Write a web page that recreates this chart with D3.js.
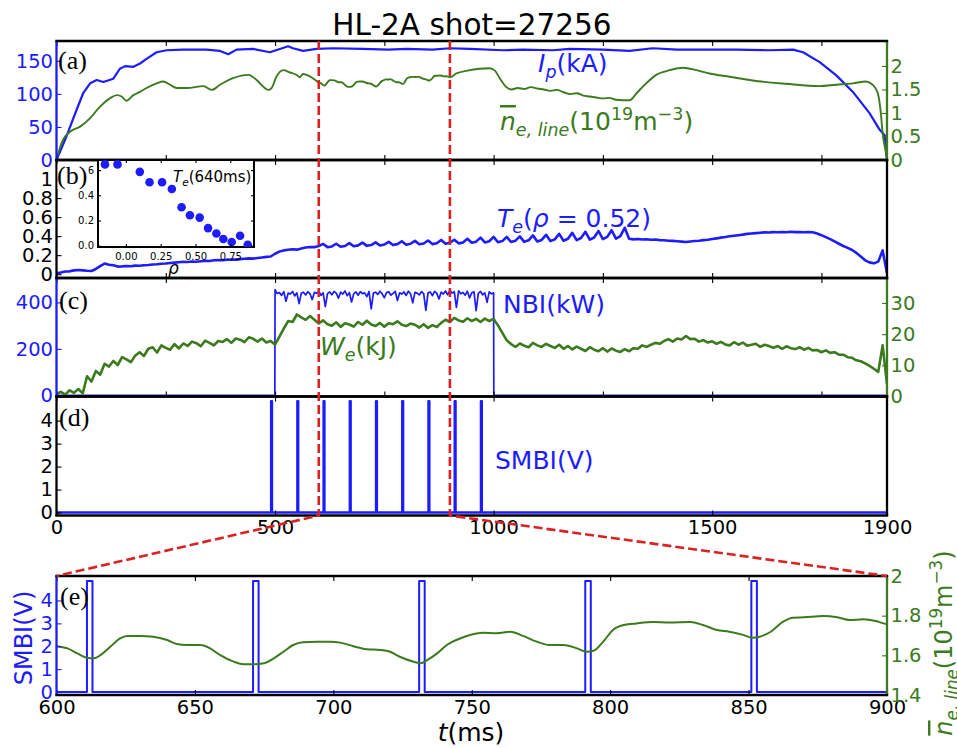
<!DOCTYPE html>
<html><head><meta charset="utf-8">
<script src="https://cdn.jsdelivr.net/npm/d3@7"></script>
<style>body{margin:0;background:#fff}</style>
</head><body>
<svg id="c" width="957" height="748"></svg>
<script>
// ---------- shot data (HL-2A #27256) ----------
// plasma current Ip [ms, kA]
const ipData = [[0,0],[23,36],[46,76],[61,101],[77,116],[92,121],[107,118],[130,123],[145,138],[157,142],[176,141],[191,146],[206,153],[229,163],[252,166],[290,167],[343,167],[374,165],[393,160],[412,167],[450,168],[488,163],[511,168],[530,172],[541,169],[564,165],[595,168],[633,169],[700,168],[760,167],[800,168],[860,167],[900,169],[945,168],[1022,166],[1067,167],[1136,166],[1174,168],[1250,167],[1311,165],[1364,169],[1420,167],[1479,167],[1555,167],[1631,166],[1685,167],[1708,163],[1746,148],[1784,128],[1822,103],[1860,71],[1883,46],[1895,37],[1898,11],[1900,0]];

// line-averaged density [ms, 1e19 m^-3]
const neData = [[0,0.02],[15,0.43],[31,0.60],[54,0.71],[77,0.89],[99,1.13],[122,1.31],[138,1.38],[149,1.35],[160,1.26],[176,1.38],[191,1.45],[206,1.53],[229,1.63],[244,1.67],[260,1.60],[275,1.53],[298,1.53],[336,1.57],[355,1.49],[374,1.60],[404,1.74],[439,1.81],[458,1.70],[473,1.56],[484,1.49],[492,1.53],[503,1.77],[519,1.91],[534,1.86],[549,1.81],[557,1.76],[564,1.83],[572,1.81],[583,1.76],[592,1.70],
[600,1.647],[604,1.635],[607.5,1.610],[611,1.588],[613.5,1.585],[616,1.602],[619.5,1.644],[623,1.686],[625.5,1.698],[630,1.698],[635,1.694],[640,1.677],[643.5,1.657],[647,1.652],[652,1.652],[655.5,1.635],[659,1.602],[664,1.568],[667.5,1.555],[671,1.555],[675,1.560],[678.5,1.585],[682,1.618],[685.5,1.652],[689,1.666],[694,1.669],[699,1.669],[702.5,1.664],[707,1.647],[712,1.631],[717,1.627],[720.5,1.618],[724,1.593],[729,1.568],[731.5,1.560],[734,1.577],[737.5,1.610],[741,1.652],[746,1.686],[750,1.705],[754,1.714],[759,1.711],[764,1.719],[768.5,1.698],[773.5,1.669],[778,1.652],[783,1.652],[788,1.635],[791.5,1.618],[794,1.623],[797.5,1.669],[801,1.728],[805,1.753],[809.5,1.761],[815.5,1.768],[821.5,1.766],[829,1.768],[833.5,1.753],[838.5,1.728],[843,1.719],[848,1.703],[851.5,1.689],[854,1.694],[858,1.719],[862.5,1.770],[866,1.790],[870,1.792],[877,1.798],[882,1.792],[886.5,1.778],[891.5,1.782],[896,1.773],[900,1.758],
[915,1.84],[940,1.90],[968,1.94],[991,1.95],[1003,1.90],[1014,1.74],[1029,1.55],[1041,1.50],[1055,1.53],[1070,1.51],[1085,1.55],[1100,1.52],[1115,1.50],[1130,1.47],[1145,1.49],[1160,1.44],[1175,1.40],[1190,1.42],[1205,1.37],[1220,1.35],[1235,1.33],[1250,1.31],[1265,1.32],[1280,1.28],[1295,1.27],[1311,1.27],[1327,1.42],[1349,1.63],[1372,1.81],[1403,1.91],[1433,1.96],[1464,1.91],[1494,1.84],[1540,1.77],[1593,1.69],[1669,1.62],[1746,1.57],[1784,1.60],[1822,1.63],[1852,1.67],[1867,1.60],[1879,1.42],[1886,0.99],[1890,0.57],[1898,0.14],[1900,0.03]];

// ECE Te at rho = 0.52 [keV], sampled every 10 ms from t = 0
const sampleStep = 10;
const teValues = [
0.010,0.018,0.028,0.030,0.040,0.044,0.040,0.036,0.034,0.055,
0.085,0.112,0.100,0.094,0.080,0.082,0.086,0.084,0.090,0.088,
0.094,0.096,0.102,0.104,0.110,0.112,0.118,0.122,0.126,0.131,
0.128,0.133,0.131,0.136,0.140,0.138,0.146,0.148,0.146,0.152,
0.155,0.153,0.158,0.162,0.166,0.164,0.170,0.176,0.182,0.186,
0.215,0.238,0.250,0.256,0.262,0.258,0.270,0.280,0.286,0.284,
0.296,0.318,0.284,0.292,0.320,0.288,0.296,0.326,0.294,0.303,
0.332,0.298,0.306,0.334,0.302,0.312,0.340,0.306,0.316,0.346,
0.310,0.320,0.350,0.314,0.322,0.354,0.316,0.326,0.360,0.320,
0.330,0.362,0.324,0.334,0.372,0.330,0.342,0.384,0.334,0.346,
0.392,0.336,0.348,0.392,0.338,0.352,0.398,0.340,0.356,0.408,
0.344,0.360,0.414,0.348,0.366,0.424,0.352,0.372,0.434,0.358,
0.380,0.446,0.364,0.386,0.454,0.368,0.392,0.462,0.374,0.400,
0.488,0.372,0.366,0.370,0.364,0.368,0.362,0.364,0.358,0.356,
0.352,0.350,0.346,0.342,0.338,0.344,0.348,0.352,0.358,0.362,
0.370,0.376,0.384,0.390,0.398,0.404,0.410,0.416,0.424,0.428,
0.432,0.436,0.440,0.438,0.442,0.440,0.444,0.440,0.446,0.442,
0.444,0.440,0.444,0.440,0.428,0.410,0.390,0.368,0.344,0.320,
0.296,0.276,0.254,0.224,0.186,0.146,0.124,0.114,0.132,0.250,
0.010];

// stored energy We [kJ], sampled every 10 ms from t = 0
const weValues = [
0.8,1.5,0.6,2.0,1.2,2.4,1.0,6.5,4.8,8.2,
7.0,10.5,9.6,11.4,10.1,12.6,11.9,11.0,13.1,14.2,
13.0,15.3,15.8,14.1,16.4,15.6,15.0,16.8,15.4,17.0,
16.2,17.6,17.1,16.1,17.9,17.2,16.4,17.8,17.5,18.4,
17.2,18.6,18.2,17.4,19.0,18.5,17.6,18.6,17.3,17.8,
16.6,19.2,21.8,24.2,23.9,26.3,25.4,24.6,25.8,24.6,
23.4,24.4,23.2,22.7,23.8,22.3,23.5,23.1,22.4,23.9,
23.0,24.3,23.1,22.6,23.6,22.4,23.5,23.2,24.1,23.0,
22.6,23.4,23.0,22.1,23.2,22.0,22.9,22.3,23.6,24.6,
23.9,25.2,24.4,24.0,25.1,24.2,24.9,23.9,25.0,24.2,
24.9,22.8,20.4,18.0,16.8,15.9,17.0,16.3,15.8,17.2,
16.4,15.9,16.9,16.2,15.6,16.6,15.3,16.2,15.1,16.0,
15.3,14.6,15.8,15.0,14.5,15.5,14.4,15.4,14.7,14.3,
15.2,14.5,15.5,15.3,16.4,15.9,16.6,17.2,16.9,17.8,
18.4,17.6,18.6,18.3,19.4,18.4,18.5,17.6,18.1,17.3,
17.7,16.9,17.5,16.7,16.4,17.4,16.6,17.3,16.3,16.6,
16.9,15.9,16.6,16.2,15.6,16.2,15.3,16.1,15.5,15.2,
15.8,15.0,15.6,14.8,14.9,14.2,14.8,14.0,14.2,13.4,
13.4,12.6,12.4,11.6,11.3,10.6,9.8,8.9,7.9,16.4,
4.0];

// NBI power [kW]: beam on 500-1000 ms, sampled every 5 ms
const nbiOn = 500, nbiOff = 1000, nbiStep = 5;
const nbiValues = [
455,438,442,430,446,405,440,436,447,428,
441,395,439,444,432,446,437,412,443,439,
448,430,441,382,438,445,433,447,440,418,
444,436,449,429,442,402,437,445,431,446,
438,441,425,447,372,440,444,434,448,437,
420,442,446,431,439,447,408,441,436,445,
430,448,437,398,443,440,432,446,438,366,
441,445,429,447,439,415,444,436,449,433,
452,440,446,378,450,437,443,431,448,419,
441,446,364,439,447,433,441,400,445,437,
441];

// SMBI valve voltage pulses [ms]
const smbiStart = [491, 551, 611, 671, 731, 791, 851, 911, 971];
const smbiDuration = 2;
const smbiLevel = 4.85;

// Te profile at 640 ms (inset)
const rhoInset = [-0.15,-0.06,0.10,0.17,0.26,0.33,0.40,0.46,0.53,0.59,0.65,0.70,0.76,0.82,0.875];
const teInset  = [0.645,0.645,0.586,0.503,0.503,0.45,0.305,0.242,0.223,0.14,0.097,0.053,0.03,0.079,0.008];

// tick values
const mainTicks = [0, 500, 1000, 1500, 1900];
const minorMainTicks = [0, 250, 500, 750, 1000, 1250, 1500, 1750];
const zoomTicks = [600, 650, 700, 750, 800, 850, 900];
const ipTicks = [0, 50, 100, 150];
const neTicks = [0, 0.5, 1, 1.5, 2];
const teTicks = [0, 0.2, 0.4, 0.6, 0.8, 1];
const nbiTicks = [0, 200, 400];
const weTicks = [0, 10, 20, 30];
const smbiTicks = [0, 1, 2, 3, 4];
const neZoomTicks = [1.4, 1.6, 1.8, 2.0];
const insetXTicks = [0, 0.25, 0.5, 0.75];
const insetYTicks = [0, 0.2, 0.4, 0.6];

// ---------- drawing ----------
const BLUE = "#1c1cff", GREEN = "#3b7a1d", RED = "#da2222";
const SANS = "DejaVu Sans", SERIF = "Liberation Serif";
const FS = 19.5;
const svg = d3.select("#c");
const defs = svg.append("defs");

const X0 = 56.5, X1 = 887;
const P = {a:[41,160], b:[160,278], c:[278,396.5], d:[396.5,515.5], e:[576,695]};

const xMain = d3.scaleLinear().domain([0,1900]).range([X0,X1]);
const xZoom = d3.scaleLinear().domain([600,900]).range([X0,X1]);

const yIp = d3.scaleLinear().domain([0,180]).range([P.a[1],P.a[0]]);
const yNe = d3.scaleLinear().domain([0,2.53]).range([P.a[1],P.a[0]]);
const yTe = d3.scaleLinear().domain([-0.04,1.2]).range([P.b[1],P.b[0]]);
const yNbi = d3.scaleLinear().domain([-5,505]).range([P.c[1],P.c[0]]);
const yWe = d3.scaleLinear().domain([0,38]).range([P.c[1],P.c[0]]);
const ySmbi = d3.scaleLinear().domain([-0.13,5.05]).range([P.d[1],P.d[0]]);
const ySmbiZ = d3.scaleLinear().domain([-0.13,5.07]).range([P.e[1],P.e[0]]);
const yNeZ = d3.scaleLinear().domain([1.4,2.0]).range([P.e[1],P.e[0]]);

Object.entries(P).forEach(([k,[t,b]]) => {
  defs.append("clipPath").attr("id","clip-"+k).append("rect")
    .attr("x",X0).attr("y",t).attr("width",X1-X0).attr("height",b-t);
});

// assembled time series
const teSeries = teValues.map((v,i) => [i*sampleStep, v]);
const weSeries = weValues.map((v,i) => [i*sampleStep, v]);
const nbiSeries = [[0,0],[nbiOn-0.5,0]]
  .concat(nbiValues.map((v,i) => [nbiOn + i*nbiStep, v]))
  .concat([[nbiOff+0.5,0],[1900,0]]);
const smbiSeries = [[0,0]];
smbiStart.forEach(s => {
  smbiSeries.push([s,0],[s,smbiLevel],[s+smbiDuration,smbiLevel],[s+smbiDuration,0]);
});
smbiSeries.push([1900,0]);

function drawLine(panel, data, xs, ys, color, width, curve) {
  const ln = d3.line().x(d => xs(d[0])).y(d => ys(d[1]));
  if (curve) ln.curve(curve);
  svg.append("path").attr("clip-path","url(#clip-"+panel+")")
    .attr("d", ln(data)).attr("fill","none").attr("stroke",color)
    .attr("stroke-width",width).attr("stroke-linejoin","round");
}

// (a)
drawLine("a", ipData, xMain, yIp, BLUE, 2.2);
drawLine("a", neData, xMain, yNe, GREEN, 1.9, d3.curveMonotoneX);
// (b)
drawLine("b", teSeries, xMain, yTe, BLUE, 2.6);
// (c)
drawLine("c", nbiSeries, xMain, yNbi, BLUE, 1.7);
drawLine("c", weSeries, xMain, yWe, GREEN, 2.6);
// (d)
drawLine("d", smbiSeries, xMain, ySmbi, BLUE, 2.4);
// (e)
drawLine("e", smbiSeries, xZoom, ySmbiZ, BLUE, 2);
drawLine("e", neData, xZoom, yNeZ, GREEN, 2, d3.curveMonotoneX);

// axes helpers
function styleAxis(g, color, size) {
  g.attr("fill", null).attr("font-size", null).attr("font-family", null);
  g.select(".domain").remove();
  g.selectAll(".tick line").attr("stroke", color).attr("stroke-width", 1.1);
  g.selectAll(".tick text").attr("fill", color).attr("font-size", size)
    .attr("font-family", SANS);
}
function yAxis(scale, side, ticks, color, fmt) {
  const ax = (side === "left" ? d3.axisLeft(scale) : d3.axisRight(scale))
    .tickValues(ticks).tickFormat(fmt || (d => String(d)))
    .tickSizeInner(-5).tickSizeOuter(0).tickPadding(3.5);
  const g = svg.append("g").attr("transform", `translate(${side === "left" ? X0 : X1},0)`).call(ax);
  styleAxis(g, color, FS);
}
function xAxis(scale, y, side, ticks, labels) {
  const ax = (side === "bottom" ? d3.axisBottom(scale) : d3.axisTop(scale))
    .tickValues(ticks).tickSizeInner(-5).tickSizeOuter(0).tickPadding(4.7)
    .tickFormat(labels ? (d => String(d)) : () => "");
  const g = svg.append("g").attr("transform", `translate(0,${y})`).call(ax);
  styleAxis(g, "#000", FS);
}

// time-axis ticks
["a","b","c"].forEach(k => {
  xAxis(xMain, P[k][0], "top", minorMainTicks, false);
  xAxis(xMain, P[k][1], "bottom", minorMainTicks, false);
});
xAxis(xMain, P.d[0], "top", mainTicks, false);
xAxis(xMain, P.d[1], "bottom", mainTicks, true);
xAxis(xZoom, P.e[0], "top", zoomTicks, false);
xAxis(xZoom, P.e[1], "bottom", zoomTicks, true);

// value axes
yAxis(yIp, "left", ipTicks, BLUE);
yAxis(yNe, "right", neTicks, GREEN);
yAxis(yTe, "left", teTicks, "#000");
yAxis(yNbi, "left", nbiTicks, BLUE);
yAxis(yWe, "right", weTicks, GREEN);
yAxis(ySmbi, "left", smbiTicks, "#000");
yAxis(ySmbiZ, "left", smbiTicks, BLUE);
yAxis(yNeZ, "right", neZoomTicks, GREEN);

// spines
const spineColors = {a:[BLUE,GREEN], b:["#000","#000"], c:[BLUE,GREEN], d:["#000","#000"], e:[BLUE,GREEN]};
Object.entries(P).forEach(([k,[t,b]]) => {
  svg.append("line").attr("x1",X0).attr("x2",X0).attr("y1",t).attr("y2",b)
    .attr("stroke",spineColors[k][0]).attr("stroke-width",2.3);
  svg.append("line").attr("x1",X1).attr("x2",X1).attr("y1",t).attr("y2",b)
    .attr("stroke",spineColors[k][1]).attr("stroke-width",2.3);
});
Object.entries(P).forEach(([k,[t,b]]) => {
  [t,b].forEach(y => svg.append("line").attr("x1",X0-1.2).attr("x2",X1+1.2).attr("y1",y).attr("y2",y)
    .attr("stroke","#000").attr("stroke-width",2.7));
});

// math-style text: segments with italic / subscript / superscript / overline
function mtext(x, y, size, fill, segs, opts = {}) {
  const t = svg.append("text").attr("x",x).attr("y",y).attr("font-size",size).attr("fill",fill)
    .attr("font-family",SANS);
  if (opts.anchor) t.attr("text-anchor", opts.anchor);
  if (opts.rotate) t.attr("transform", `rotate(${opts.rotate},${x},${y})`);
  let shift = 0;
  segs.forEach(s => {
    const target = s.sub ? size*0.24 : s.sup ? -size*0.42 : 0;
    const ts = t.append("tspan").text(s.t).attr("dy", target - shift);
    shift = target;
    if (s.sub || s.sup) ts.attr("font-size", size*0.7);
    if (s.it) ts.attr("font-style","italic");
    if (s.over) ts.attr("text-decoration","overline");
  });
  return t;
}

// inset: Te profile at 640 ms
const xi = d3.scaleLinear().domain([-0.2,0.92]).range([98,254]);
const yi = d3.scaleLinear().domain([-0.01,0.68]).range([247,160]);
svg.append("rect").attr("x",98).attr("y",160).attr("width",156).attr("height",87)
  .attr("fill","#fff").attr("stroke","#000").attr("stroke-width",2);
defs.append("clipPath").attr("id","clip-inset").append("rect")
  .attr("x",98).attr("y",160).attr("width",156).attr("height",87);
svg.append("g").attr("clip-path","url(#clip-inset)").selectAll("circle")
  .data(rhoInset.map((r,i) => [r, teInset[i]])).join("circle")
  .attr("cx", d => xi(d[0])).attr("cy", d => yi(d[1])).attr("r", 4.3).attr("fill", BLUE);
{
  const gx = svg.append("g").attr("transform","translate(0,247)")
    .call(d3.axisBottom(xi).tickValues(insetXTicks).tickFormat(d3.format(".2f"))
      .tickSizeInner(-3).tickSizeOuter(0).tickPadding(6));
  styleAxis(gx, "#000", 10);
  const gxt = svg.append("g").attr("transform","translate(0,160)")
    .call(d3.axisTop(xi).tickValues(insetXTicks).tickFormat(() => "").tickSizeInner(-3).tickSizeOuter(0));
  styleAxis(gxt, "#000", 10);
  const gy = svg.append("g").attr("transform","translate(98,0)")
    .call(d3.axisLeft(yi).tickValues(insetYTicks).tickFormat(d3.format(".1f"))
      .tickSizeInner(-3).tickSizeOuter(0).tickPadding(4));
  styleAxis(gy, "#000", 10);
  const gyr = svg.append("g").attr("transform","translate(254,0)")
    .call(d3.axisRight(yi).tickValues(insetYTicks).tickFormat(() => "").tickSizeInner(-3).tickSizeOuter(0));
  styleAxis(gyr, "#000", 10);
}
mtext(173, 182, 15, "#000", [{t:"T",it:1},{t:"e",it:1,sub:1},{t:"(640ms)"}]);
mtext(168, 274, 17, "#000", [{t:"ρ",it:1}]);

// panel letters
const letters = [["(a)",58,69],["(b)",57,184],["(c)",59,309],["(d)",59,425.5],["(e)",60,605]];
svg.append("rect").attr("x",57.6).attr("y",163).attr("width",30.8).attr("height",26).attr("fill","#fff");
letters.forEach(([s,x,y]) => svg.append("text").attr("x",x).attr("y",y).text(s)
  .attr("font-family",SERIF).attr("font-size",26).attr("fill","#000"));

// series labels
mtext(538, 72, 25, BLUE, [{t:"I",it:1},{t:"p",it:1,sub:1},{t:"(kA)"}]);
mtext(500, 130, 25, GREEN, [{t:"n",it:1,over:1},{t:"e, line",it:1,sub:1},{t:"(10"},{t:"19",sup:1},{t:"m"},{t:"−3",sup:1},{t:")"}]);
mtext(497, 227, 25, BLUE, [{t:"T",it:1},{t:"e",it:1,sub:1},{t:"("},{t:"ρ",it:1},{t:" = 0.52)"}]);
mtext(503, 313, 25, BLUE, [{t:"NBI(kW)"}]);
mtext(320, 355, 25, GREEN, [{t:"W",it:1},{t:"e",it:1,sub:1},{t:"(kJ)"}]);
mtext(495, 469, 25, BLUE, [{t:"SMBI(V)"}]);

// axis titles
mtext(31.5, 638, 24, BLUE, [{t:"SMBI(V)"}], {anchor:"middle", rotate:-90});
mtext(952, 643, 24, GREEN, [{t:"n",it:1,over:1},{t:"e, line",it:1,sub:1},{t:"(10"},{t:"19",sup:1},{t:"m"},{t:"−3",sup:1},{t:")"}], {anchor:"middle", rotate:-90});
mtext(471, 741, 25, "#000", [{t:"t",it:1},{t:"(ms)"}], {anchor:"middle"});

// title
svg.append("text").attr("x",472).attr("y",35).attr("text-anchor","middle")
  .attr("font-size",29.5).attr("font-family",SANS).attr("fill","#000").text("HL-2A shot=27256");

// zoom-window markers linking (a)-(d) to (e)
const zoomEdges = [[600, X0], [900, X1]];
zoomEdges.forEach(([t, xe]) => {
  const p = d3.path();
  p.moveTo(xMain(t), P.a[0]);
  p.lineTo(xMain(t), P.d[1]);
  p.lineTo(xe, P.e[0]);
  svg.append("path").attr("d", p.toString()).attr("fill","none").attr("stroke",RED)
    .attr("stroke-width",2.6).attr("stroke-dasharray","9,4");
});
</script>
</body></html>
